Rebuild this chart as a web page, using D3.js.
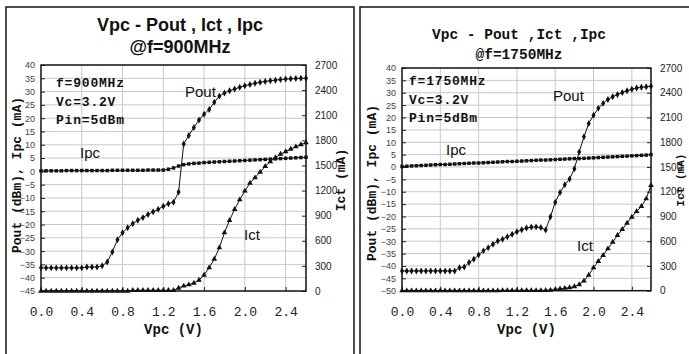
<!DOCTYPE html>
<html>
<head>
<meta charset="utf-8">
<script src="https://cdn.jsdelivr.net/npm/d3@7"></script>
<style>
  body { margin: 0; background: #fff; }
  svg { display: block; }
</style>
</head>
<body>
<div id="vis"></div>
<script>
// Vpc sweep (V), same for every series
var vpc = [0.00,0.05,0.10,0.15,0.20,0.25,0.30,0.35,0.40,0.45,0.50,0.55,0.60,0.65,0.70,0.75,0.80,0.85,0.90,0.95,
           1.00,1.05,1.10,1.15,1.20,1.25,1.30,1.35,1.40,1.45,1.50,1.55,1.60,1.65,1.70,1.75,1.80,1.85,1.90,1.95,
           2.00,2.05,2.10,2.15,2.20,2.25,2.30,2.35,2.40,2.45,2.50,2.55,2.60];

// f = 900 MHz
var pout900 = [-36.3,-36.3,-36.3,-36.3,-36.3,-36.3,-36.3,-36.3,-36.3,-36.0,-36.0,-36.0,-35.5,-34.1,-30.3,-25.7,-23.1,-21.2,-19.7,-18.4,
               -17.4,-16.2,-15.2,-14.3,-13.1,-12.2,-11.6,-7.8,10.3,13.5,16.5,19.3,21.5,23.3,26.0,28.3,29.5,30.3,31.0,31.6,
               32.2,32.7,33.1,33.5,33.8,34.1,34.3,34.5,34.7,34.8,34.9,35.0,35.0];
var ipc900 = [0.2,0.2,0.2,0.2,0.2,0.3,0.3,0.3,0.3,0.3,0.3,0.3,0.3,0.3,0.4,0.4,0.4,0.4,0.4,0.4,
              0.4,0.5,0.5,0.5,0.5,0.8,1.3,2.0,2.5,2.8,3.0,3.1,3.3,3.4,3.5,3.6,3.7,3.8,3.9,4.0,
              4.1,4.2,4.3,4.4,4.5,4.6,4.7,4.8,4.9,5.0,5.1,5.2,5.3];
var ict900 = [0,0,0,0,0,0,0,0,0,0,0,0,0,0,0,0,0,0,8,8,
              8,8,8,8,8,8,8,36,60,75,95,131,191,278,381,517,697,845,976,1091,
              1195,1290,1354,1420,1490,1545,1595,1635,1665,1695,1724,1750,1772];

// f = 1750 MHz
var pout1750 = [-42.0,-42.0,-42.0,-42.0,-42.0,-42.0,-42.0,-42.0,-42.0,-42.0,-42.0,-42.0,-40.7,-40.4,-38.6,-37.3,-35.5,-33.9,-32.6,-31.2,
                -29.9,-29.2,-28.2,-27.2,-26.2,-25.4,-24.7,-24.3,-24.2,-24.5,-25.5,-20.1,-14.3,-10.3,-7.2,-4.9,-0.7,6.1,12.2,17.6,
                20.9,23.7,25.7,27.3,28.4,29.3,30.1,30.8,31.4,31.9,32.2,32.4,32.6];
var ipc1750 = [0.2,0.3,0.4,0.5,0.6,0.7,0.8,0.9,1.0,1.0,1.1,1.2,1.3,1.4,1.5,1.6,1.6,1.7,1.8,1.9,
               2.0,2.1,2.2,2.2,2.3,2.4,2.5,2.6,2.7,2.8,2.8,2.9,3.0,3.1,3.2,3.3,3.4,3.4,3.5,3.6,
               3.7,3.8,3.9,4.0,4.1,4.2,4.3,4.4,4.5,4.6,4.7,4.8,5.0];
var ict1750 = [0,0,0,0,0,0,0,0,0,0,0,0,0,0,0,0,0,0,0,0,
               0,3,3,3,3,3,3,3,3,3,3,8,15,22,30,38,50,75,118,190,
               279,356,429,509,590,671,744,820,893,962,1023,1115,1277];

// tick labels
var xTicks = [0.0,0.4,0.8,1.2,1.6,2.0,2.4];
var ictTicks = [0,300,600,900,1200,1500,1800,2100,2400,2700];
var leftTicks900 = [-45,-40,-35,-30,-25,-20,-15,-10,-5,0,5,10,15,20,25,30,35,40];
var leftTicks1750 = [-50,-45,-40,-35,-30,-25,-20,-15,-10,-5,0,5,10,15,20,25,30,35,40];

var SANS = "'Liberation Sans', Arial, sans-serif";
var MONO = "'Liberation Mono', 'Courier New', monospace";

var svg = d3.select("#vis").append("svg")
  .attr("width", 689)
  .attr("height", 354);

function drawPanel(p) {
  var g = svg.append("g");

  // outer frame of the panel
  g.append("rect")
    .attr("x", p.box[0]).attr("y", p.box[1])
    .attr("width", p.box[2]).attr("height", p.box[3])
    .attr("fill", "none").attr("stroke", "#222").attr("stroke-width", 1.6);

  var x = d3.scaleLinear().domain([0, 2.6]).range([p.plot.x0, p.plot.x1]);
  var y = d3.scaleLinear().domain(p.yDomain).range([p.plot.y1, p.plot.y0]);
  var y2 = d3.scaleLinear().domain([0, 2700]).range([p.plot.y1, p.plot.y0]);

  // grid
  g.append("g").selectAll("line")
    .data(p.leftTicks.slice(1, -1))
    .join("line")
    .attr("x1", p.plot.x0).attr("x2", p.plot.x1)
    .attr("y1", d => y(d)).attr("y2", d => y(d))
    .attr("stroke", "#c8c8c8").attr("stroke-width", 1);
  g.append("g").selectAll("line")
    .data(xTicks.slice(1))
    .join("line")
    .attr("x1", d => x(d)).attr("x2", d => x(d))
    .attr("y1", p.plot.y0).attr("y2", p.plot.y1)
    .attr("stroke", "#c8c8c8").attr("stroke-width", 1);

  // axes
  var axL = g.append("g")
    .attr("transform", "translate(" + p.plot.x0 + ",0)")
    .call(d3.axisLeft(y).tickValues(p.leftTicks).tickSize(-4).tickPadding(6).tickFormat(d3.format("d")));
  axL.selectAll("text").attr("font-family", SANS).attr("font-size", 9).attr("fill", "#444");

  var axR = g.append("g")
    .attr("transform", "translate(" + p.plot.x1 + ",0)")
    .call(d3.axisRight(y2).tickValues(ictTicks).tickSize(-4).tickPadding(9).tickFormat(d3.format("d")));
  axR.selectAll("text").attr("font-family", SANS).attr("font-size", 10).attr("fill", "#222");

  var axB = g.append("g")
    .attr("transform", "translate(0," + p.plot.y1 + ")")
    .call(d3.axisBottom(x).tickValues(xTicks).tickSize(-4).tickPadding(16).tickFormat(d3.format(".1f")));
  axB.selectAll("text").attr("font-family", MONO).attr("font-size", 13).attr("fill", "#222");

  [axL, axR, axB].forEach(function(a) {
    a.select(".domain").remove();
    a.selectAll("line").attr("stroke", "#222");
  });

  // plot frame
  g.append("rect")
    .attr("x", p.plot.x0).attr("y", p.plot.y0)
    .attr("width", p.plot.x1 - p.plot.x0).attr("height", p.plot.y1 - p.plot.y0)
    .attr("fill", "none").attr("stroke", "#111").attr("stroke-width", 1.5);

  // series
  function series(vals, scale, sym, size) {
    var pts = vpc.map((v, i) => [x(v), scale(vals[i])]);
    g.append("path")
      .datum(pts)
      .attr("fill", "none").attr("stroke", "#111").attr("stroke-width", 1)
      .attr("d", d3.line());
    g.append("g").selectAll("path")
      .data(pts)
      .join("path")
      .attr("transform", d => "translate(" + d[0] + "," + d[1] + ")")
      .attr("d", d3.symbol().type(sym).size(size))
      .attr("fill", "#111");
  }
  series(p.ict, y2, d3.symbolTriangle, 14);
  series(p.ipc, y, d3.symbolSquare, 12);
  series(p.pout, y, d3.symbolDiamond, 14);

  // titles
  p.title.forEach(function(t) {
    g.append("text")
      .attr("x", p.titleX).attr("y", t.y)
      .attr("text-anchor", "middle")
      .attr("font-family", p.titleFont).attr("font-weight", "bold")
      .attr("font-size", p.titleSize)
      .attr("fill", "#111")
      .text(t.text);
  });

  // conditions text
  p.notes.forEach(function(t, i) {
    g.append("text")
      .attr("x", p.noteX).attr("y", p.noteY + i * 18.7)
      .attr("font-family", MONO).attr("font-weight", "bold")
      .attr("font-size", 13).attr("letter-spacing", 0.8)
      .attr("fill", "#111")
      .text(t);
  });

  // series labels
  p.labels.forEach(function(t) {
    g.append("text")
      .attr("x", t.x).attr("y", t.y)
      .attr("font-family", SANS).attr("font-size", 15)
      .attr("fill", "#111")
      .text(t.text);
  });

  // axis titles
  g.append("text")
    .attr("x", (p.plot.x0 + p.plot.x1) / 2).attr("y", 334)
    .attr("text-anchor", "middle")
    .attr("font-family", MONO).attr("font-weight", "bold").attr("font-size", 14)
    .attr("fill", "#111")
    .text("Vpc (V)");
  g.append("text")
    .attr("transform", "translate(" + p.yLabelX + "," + p.yLabelY + ") rotate(-90)")
    .attr("text-anchor", "middle")
    .attr("font-family", MONO).attr("font-weight", "bold").attr("font-size", 13)
    .attr("fill", "#111")
    .text("Pout (dBm), Ipc (mA)");
  g.append("text")
    .attr("transform", "translate(" + p.y2LabelX + "," + p.y2LabelY + ") rotate(-90)")
    .attr("text-anchor", "middle")
    .attr("font-family", MONO).attr("font-weight", "bold").attr("font-size", p.y2LabelSize)
    .attr("fill", "#111")
    .text("Ict (mA)");
}

drawPanel({
  box: [6, 7, 348, 360],
  plot: { x0: 41, x1: 306, y0: 65, y1: 291 },
  yDomain: [-45, 40],
  leftTicks: leftTicks900,
  pout: pout900, ipc: ipc900, ict: ict900,
  title: [{ text: "Vpc - Pout , Ict , Ipc", y: 31 }, { text: "@f=900MHz", y: 53 }],
  titleX: 180, titleFont: SANS, titleSize: 18,
  notes: ["f=900MHz", "Vc=3.2V", "Pin=5dBm"], noteX: 56, noteY: 87,
  labels: [{ text: "Pout", x: 185, y: 97 }, { text: "Ipc", x: 80, y: 158 }, { text: "Ict", x: 244, y: 240 }],
  yLabelX: 21, yLabelY: 175, y2LabelX: 345, y2LabelY: 180, y2LabelSize: 13
});

drawPanel({
  box: [360, 7, 360, 360],
  plot: { x0: 402, x1: 651, y0: 68, y1: 290.7 },
  yDomain: [-50, 40],
  leftTicks: leftTicks1750,
  pout: pout1750, ipc: ipc1750, ict: ict1750,
  title: [{ text: "Vpc - Pout ,Ict ,Ipc", y: 39 }, { text: "@f=1750MHz", y: 59 }],
  titleX: 519, titleFont: MONO, titleSize: 14.5,
  notes: ["f=1750MHz", "Vc=3.2V", "Pin=5dBm"], noteX: 409, noteY: 85,
  labels: [{ text: "Pout", x: 553, y: 101 }, { text: "Ipc", x: 446, y: 155 }, { text: "Ict", x: 577, y: 251 }],
  yLabelX: 376, yLabelY: 183, y2LabelX: 684, y2LabelY: 180, y2LabelSize: 11
});
</script>
</body>
</html>
